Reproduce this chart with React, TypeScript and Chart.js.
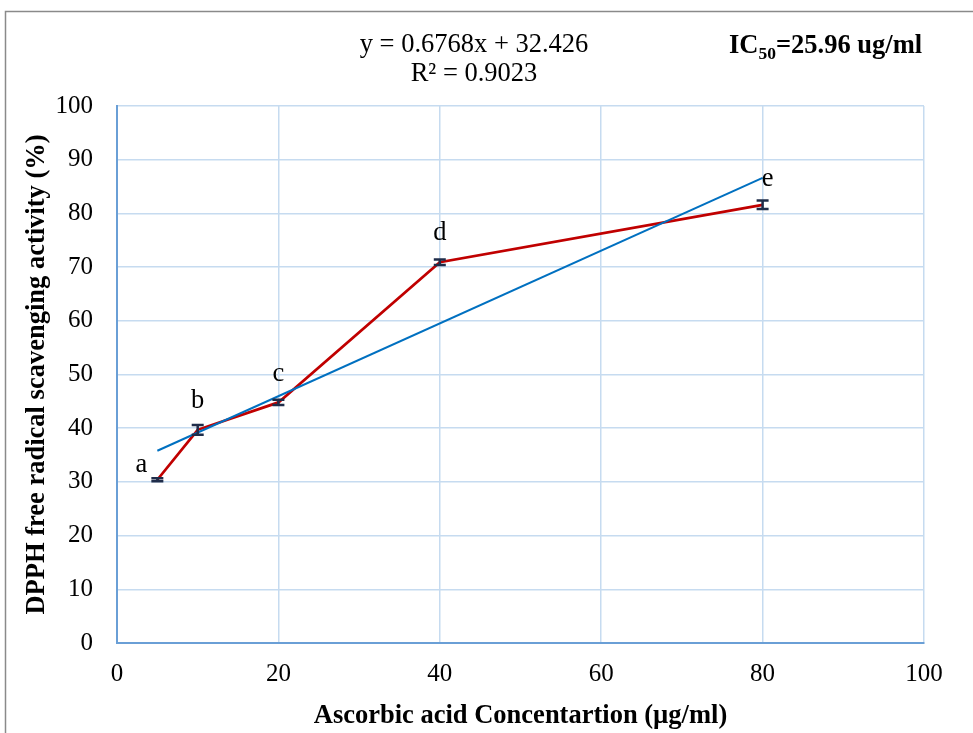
import React, { useEffect, useRef } from "react";
import { Chart, registerables } from "chart.js";

Chart.register(...registerables);

// ---- data ----
const concentrations = [5, 10, 20, 40, 80];
const activity = [30.4, 39.7, 44.8, 70.9, 81.6];
const errors = [0.3, 0.9, 0.5, 0.5, 0.8];
const pointLabels = ["a", "b", "c", "d", "e"];
const trendX = [5, 80];
const trendY = [35.8, 86.6];
const equationText = "y = 0.6768x + 32.426";
const r2Text = "R² = 0.9023";
const icParts = ["IC", "50", "=25.96 ug/ml"];
const xTitle = "Ascorbic acid Concentartion (µg/ml)";
const yTitle = "DPPH free radical scavenging activity (%)";

const FONT = "'Liberation Serif', 'Times New Roman', serif";

// label offsets (px) relative to their points: style only
const labelOffsets = [
  { dx: -16, dy: -8 },
  { dx: 0, dy: -22 },
  { dx: 0, dy: -21 },
  { dx: 0, dy: -22 },
  { dx: 5, dy: -19 },
];

const decorPlugin = {
  id: "decor",
  beforeDraw(chart: any) {
    const ctx = chart.ctx;
    ctx.save();
    ctx.fillStyle = "#ffffff";
    ctx.fillRect(0, 0, chart.width, chart.height);
    ctx.strokeStyle = "#8a8a8a";
    ctx.lineWidth = 1.5;
    ctx.beginPath();
    ctx.moveTo(5.5, chart.height);
    ctx.lineTo(5.5, 11.5);
    ctx.lineTo(chart.width, 11.5);
    ctx.stroke();
    ctx.restore();
  },
  afterDatasetsDraw(chart: any) {
    const ctx = chart.ctx;
    const xs = chart.scales.x;
    const ys = chart.scales.y;
    ctx.save();
    // error bars
    ctx.strokeStyle = "#1f2d4a";
    ctx.lineWidth = 2.5;
    concentrations.forEach((c, i) => {
      const px = xs.getPixelForValue(c);
      const top = ys.getPixelForValue(activity[i] + errors[i]);
      const bot = ys.getPixelForValue(activity[i] - errors[i]);
      ctx.beginPath();
      ctx.moveTo(px, top);
      ctx.lineTo(px, bot);
      ctx.moveTo(px - 6, top);
      ctx.lineTo(px + 6, top);
      ctx.moveTo(px - 6, bot);
      ctx.lineTo(px + 6, bot);
      ctx.stroke();
    });
    // point letters
    ctx.fillStyle = "#000000";
    ctx.font = `26.5px ${FONT}`;
    ctx.textAlign = "center";
    ctx.textBaseline = "alphabetic";
    concentrations.forEach((c, i) => {
      const px = xs.getPixelForValue(c);
      const py = ys.getPixelForValue(activity[i]);
      const o = labelOffsets[i];
      ctx.fillText(pointLabels[i], px + o.dx, py + o.dy);
    });
    // equation
    ctx.font = `26.5px ${FONT}`;
    ctx.fillText(equationText, 474, 52);
    ctx.fillText(r2Text, 474, 81);
    // IC50
    ctx.textAlign = "left";
    let x = 729;
    ctx.font = `bold 26.5px ${FONT}`;
    ctx.fillText(icParts[0], x, 53);
    x += ctx.measureText(icParts[0]).width;
    ctx.font = `bold 17.5px ${FONT}`;
    ctx.fillText(icParts[1], x, 59);
    x += ctx.measureText(icParts[1]).width;
    ctx.font = `bold 26.5px ${FONT}`;
    ctx.fillText(icParts[2], x, 53);
    ctx.restore();
  },
};

export default function App() {
  const ref = useRef<HTMLCanvasElement | null>(null);
  useEffect(() => {
    if (!ref.current) return;
    const chart = new Chart(ref.current, {
      type: "scatter",
      data: {
        datasets: [
          {
            label: "trend",
            data: trendX.map((x, i) => ({ x, y: trendY[i] })),
            showLine: true,
            borderColor: "#0070C0",
            borderWidth: 2,
            pointRadius: 0,
            order: 0,
          },
          {
            label: "activity",
            data: concentrations.map((x, i) => ({ x, y: activity[i] })),
            showLine: true,
            borderColor: "#C00000",
            borderWidth: 2.75,
            pointRadius: 0,
            order: 1,
          },
        ],
      },
      options: {
        responsive: false,
        animation: false,
        layout: { padding: { left: 0, top: 106, right: 49, bottom: 0 } },
        plugins: {
          legend: { display: false },
          tooltip: { enabled: false },
        },
        scales: {
          x: {
            type: "linear",
            min: 0,
            max: 100,
            ticks: {
              stepSize: 20,
              color: "#000",
              padding: 16,
              font: { family: FONT, size: 25 },
            },
            grid: { color: "#C6DBF0", lineWidth: 1.5, drawTicks: false },
            border: { color: "#6A9FD6", width: 2 },
            title: {
              display: true,
              text: xTitle,
              color: "#000",
              font: { family: FONT, size: 26.5, weight: "bold" },
              padding: { top: 0, bottom: 1 },
            },
            afterFit: (s: any) => {
              s.height = 90;
            },
          },
          y: {
            min: 0,
            max: 100,
            ticks: {
              stepSize: 10,
              color: "#000",
              padding: 24,
              font: { family: FONT, size: 25 },
            },
            grid: { color: "#C6DBF0", lineWidth: 1.5, drawTicks: false },
            border: { color: "#6A9FD6", width: 2 },
            title: {
              display: true,
              text: yTitle,
              color: "#000",
              font: { family: FONT, size: 26.5, weight: "bold" },
              padding: { top: 21, bottom: 0 },
            },
            afterFit: (s: any) => {
              s.width = 117;
            },
          },
        },
      },
      plugins: [decorPlugin],
    });
    return () => chart.destroy();
  }, []);
  return (
    <div style={{ position: "fixed", left: 0, top: 0, width: 973, height: 733, background: "#fff" }}>
      <canvas ref={ref} width={973} height={733} style={{ display: "block" }} />
    </div>
  );
}
